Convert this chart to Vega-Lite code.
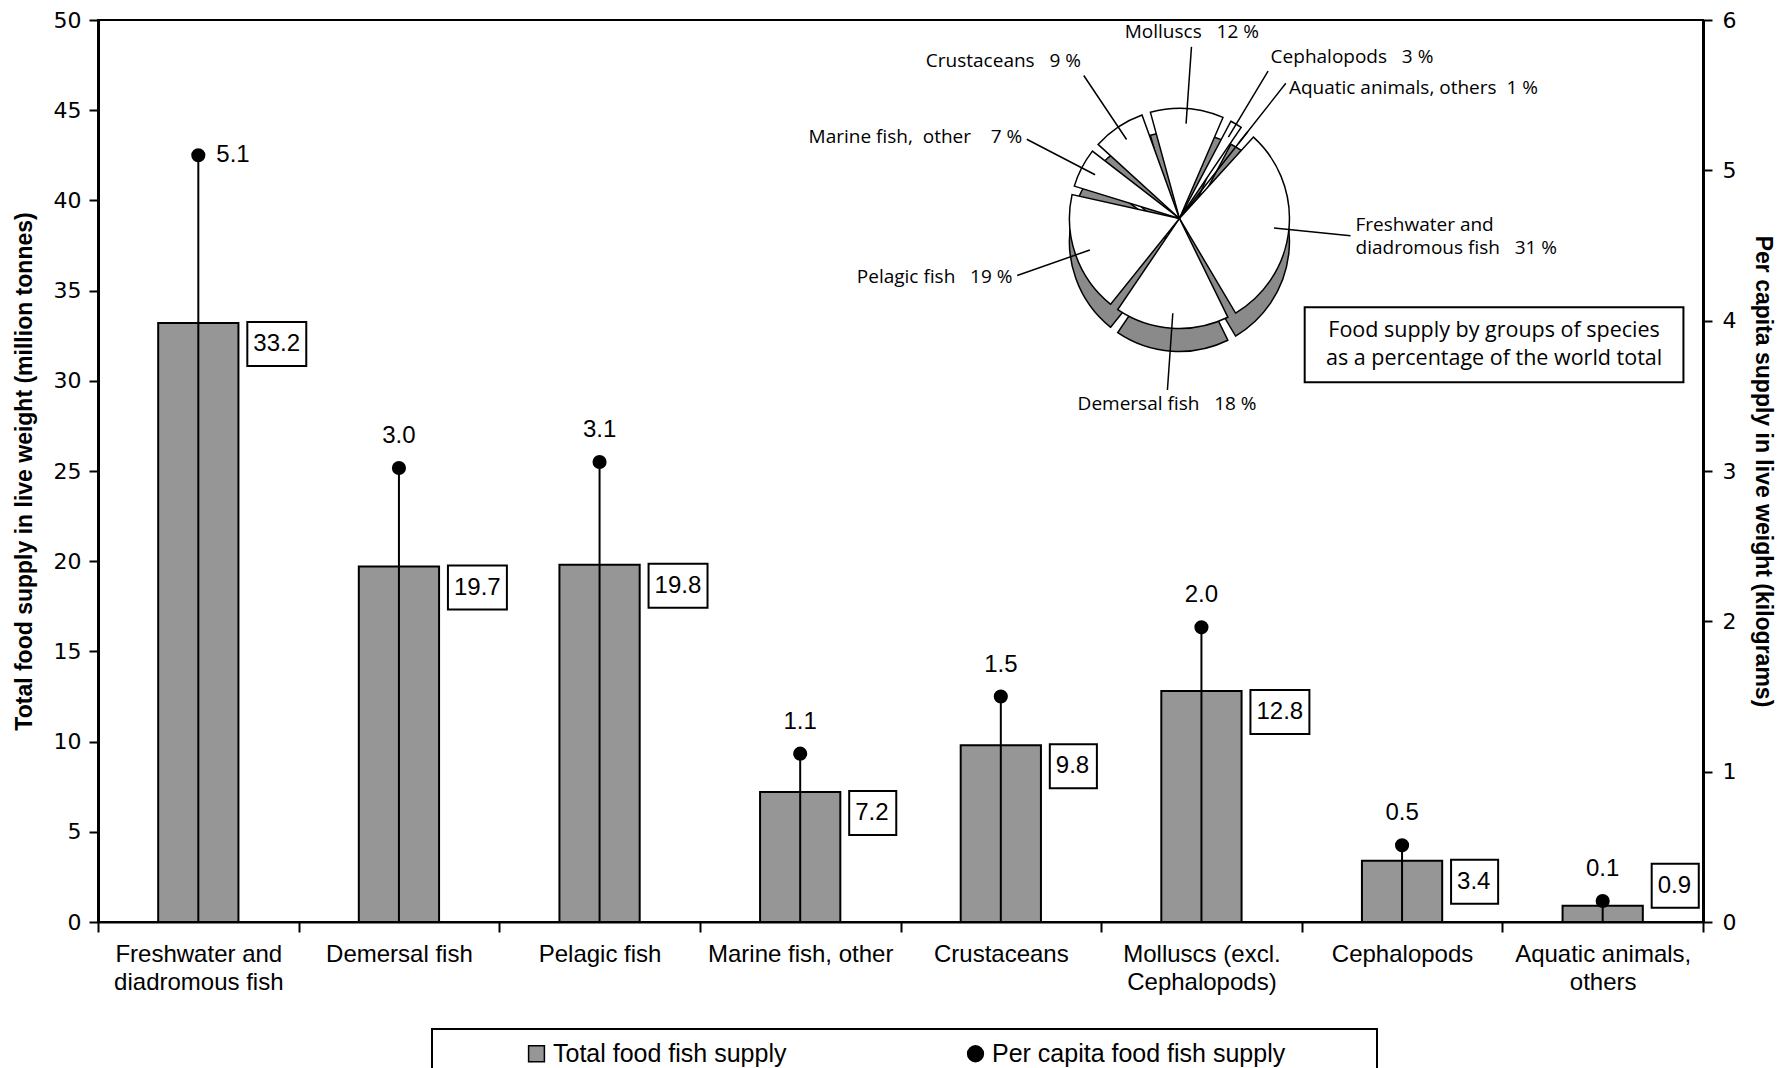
{
  "$schema": "https://vega.github.io/schema/vega-lite/v6.json",
  "width": 1605,
  "height": 902,
  "autosize": {"type": "none"},
  "padding": {"left": 98, "top": 20, "right": 74, "bottom": 146},
  "background": "white",
  "config": {
    "view": {"stroke": "black", "strokeWidth": 2},
    "font": "Liberation Sans",
    "axis": {"grid": false, "domainColor": "black", "tickColor": "black", "labelColor": "black", "titleColor": "black", "labelFont": "Liberation Sans", "titleFont": "Liberation Sans"},
    "legend": {
      "orient": "none", "legendX": 334, "legendY": 1009, "direction": "horizontal",
      "strokeColor": "black", "strokeWidth": 2, "padding": 12,
      "labelFont": "Liberation Sans", "labelFontSize": 25, "labelColor": "black", "labelLimit": 400,
      "symbolSize": 250, "symbolStrokeColor": "black", "symbolStrokeWidth": 1.5,
      "columnPadding": 96, "symbolOffset": 80, "labelOffset": 4,
      "titleOrient": "right", "titlePadding": 80
    }
  },
  "datasets": {
    "fish": [
      {"species": "Freshwater and diadromous fish", "total": 33.2, "percap": 5.1},
      {"species": "Demersal fish", "total": 19.7, "percap": 3.02},
      {"species": "Pelagic fish", "total": 19.8, "percap": 3.06},
      {"species": "Marine fish, other", "total": 7.2, "percap": 1.12},
      {"species": "Crustaceans", "total": 9.8, "percap": 1.5},
      {"species": "Molluscs (excl. Cephalopods)", "total": 12.8, "percap": 1.96},
      {"species": "Cephalopods", "total": 3.4, "percap": 0.51},
      {"species": "Aquatic animals, others", "total": 0.9, "percap": 0.14}
    ],
    "pie": [
      {"group": "Molluscs", "pct": 12, "label": "Molluscs\u00a0\u00a0 12 %"},
      {"group": "Cephalopods", "pct": 3, "label": "Cephalopods\u00a0\u00a0 3 %"},
      {"group": "Aquatic animals, others", "pct": 1, "label": "Aquatic animals, others\u00a0 1 %"},
      {"group": "Freshwater and diadromous fish", "pct": 31, "label": "Freshwater and\ndiadromous fish\u00a0\u00a0 31 %"},
      {"group": "Demersal fish", "pct": 18, "label": "Demersal fish\u00a0\u00a0 18 %"},
      {"group": "Pelagic fish", "pct": 19, "label": "Pelagic fish\u00a0\u00a0 19 %"},
      {"group": "Marine fish, other", "pct": 7, "label": "Marine fish,\u00a0 other\u00a0\u00a0\u00a0 7 %"},
      {"group": "Crustaceans", "pct": 9, "label": "Crustaceans\u00a0\u00a0 9 %"}
    ],
    "note": [
      {"note": "Food supply by groups of species\nas a percentage of the world total"}
    ]
  },
  "layer": [
    {
      "layer": [
        {
          "data": {"name": "fish"},
          "mark": {"type": "bar", "width": {"band": 0.4}, "stroke": "black", "strokeWidth": 2},
          "encoding": {
            "x": {
              "field": "species", "type": "nominal", "sort": null,
              "scale": {"domain": ["Freshwater and diadromous fish", "Demersal fish", "Pelagic fish", "Marine fish, other", "Crustaceans", "Molluscs (excl. Cephalopods)", "Cephalopods", "Aquatic animals, others"], "paddingInner": 0, "paddingOuter": 0},
              "axis": {
                "title": null, "tickBand": "extent", "tickSize": 10, "tickWidth": 2, "domainWidth": 2,
                "labelAngle": 0, "labelFontSize": 24, "labelPadding": 10, "labelLineHeight": 28, "labelLimit": 400,
                "labelExpr": "length(datum.label) > 20 ? split(replace(datum.label, regexp('^([^ ]+ [^ ]+) '), '$1|'), '|') : datum.label"
              }
            },
            "y": {
              "field": "total", "type": "quantitative",
              "scale": {"domain": [0, 50]},
              "axis": {
                "title": "Total food supply in live weight (million tonnes)",
                "values": [0, 5, 10, 15, 20, 25, 30, 35, 40, 45, 50],
                "tickSize": 9, "tickWidth": 2, "domainWidth": 3,
                "labelFont": "DejaVu Sans", "labelFontSize": 22, "labelPadding": 8,
                "titleFontSize": 23, "titleFontWeight": "bold", "titlePadding": 17
              }
            },
            "color": {
              "datum": "Total food fish supply", "type": "nominal",
              "scale": {"domain": ["Total food fish supply", "Per capita food fish supply"], "range": ["#969696", "#000000"]},
              "legend": {"title": " ", "symbolType": {"expr": "datum.value == 'Total food fish supply' ? 'square' : 'circle'"}}
            }
          }
        },
        {
          "data": {"name": "fish"},
          "mark": {"type": "point", "filled": true, "fill": "white", "stroke": "black", "strokeWidth": 2, "opacity": 1, "size": 1936, "xOffset": 49, "yOffset": {"expr": "datum.total < 2 ? -20 : 21"}},
          "encoding": {
            "x": {"field": "species", "type": "nominal", "sort": null},
            "y": {"field": "total", "type": "quantitative"},
            "shape": {"condition": {"test": "datum.total >= 10", "value": "M0,-1H2.68V1H0Z"}, "value": "M0,-1H2.14V1H0Z"}
          }
        },
        {
          "data": {"name": "fish"},
          "mark": {"type": "text", "align": "left", "baseline": "middle", "xOffset": 55, "yOffset": {"expr": "datum.total < 2 ? -20 : 21"}, "fontSize": 24, "font": "Liberation Sans", "color": "black"},
          "encoding": {
            "x": {"field": "species", "type": "nominal", "sort": null},
            "y": {"field": "total", "type": "quantitative"},
            "text": {"field": "total", "type": "quantitative", "format": ".1f"}
          }
        },
        {
          "data": {"name": "pie"},
          "mark": {"type": "arc", "radius": 110, "padAngle": 0.08, "fill": "#8a8a8a", "stroke": "black", "strokeWidth": 1.5, "xOffset": -22, "yOffset": 23},
          "encoding": {
            "x": {"datum": "Molluscs (excl. Cephalopods)", "type": "nominal"},
            "y": {"datum": 39, "type": "quantitative"},
            "theta": {"field": "pct", "type": "quantitative", "stack": true, "scale": {"range": [-0.307, 5.976]}}
          }
        },
        {
          "data": {"name": "pie"},
          "mark": {"type": "arc", "radius": 110, "padAngle": 0.08, "fill": "white", "stroke": "black", "strokeWidth": 1.5, "xOffset": -22},
          "encoding": {
            "x": {"datum": "Molluscs (excl. Cephalopods)", "type": "nominal"},
            "y": {"datum": 39, "type": "quantitative"},
            "theta": {"field": "pct", "type": "quantitative", "stack": true}
          }
        },
        {
          "data": {"name": "pie"},
          "mark": {"type": "arc", "radius": 172, "radius2": 95, "padAngle": 3.1, "fillOpacity": 0, "stroke": "black", "strokeWidth": 1.5, "xOffset": -22},
          "encoding": {
            "x": {"datum": "Molluscs (excl. Cephalopods)", "type": "nominal"},
            "y": {"datum": 39, "type": "quantitative"},
            "theta": {"field": "pct", "type": "quantitative", "stack": true}
          }
        },
        {
          "data": {"name": "pie"},
          "mark": {
            "type": "text", "radius": 177, "xOffset": -22, "font": "Open Sans", "fontSize": 19, "color": "black", "lineBreak": "\n", "lineHeight": 23,
            "text": {"expr": "datum.label"},
            "dy": {"expr": "-(length(split(datum.label, '\\n')) - 1) * 11.5"},
            "align": {"expr": "((datum.pct_start + datum.pct_end) * 1.8 - 17.6) < 12 || ((datum.pct_start + datum.pct_end) * 1.8 - 17.6) > 348 ? 'center' : ((datum.pct_start + datum.pct_end) * 1.8 - 17.6) < 168 ? 'left' : ((datum.pct_start + datum.pct_end) * 1.8 - 17.6) < 192 ? 'center' : 'right'"},
            "baseline": {"expr": "((datum.pct_start + datum.pct_end) * 1.8 - 17.6) < 35 || ((datum.pct_start + datum.pct_end) * 1.8 - 17.6) > 315 ? 'bottom' : ((datum.pct_start + datum.pct_end) * 1.8 - 17.6) < 80 ? 'top' : ((datum.pct_start + datum.pct_end) * 1.8 - 17.6) < 150 ? 'middle' : ((datum.pct_start + datum.pct_end) * 1.8 - 17.6) < 210 ? 'top' : 'middle'"}
          },
          "encoding": {
            "x": {"datum": "Molluscs (excl. Cephalopods)", "type": "nominal"},
            "y": {"datum": 39, "type": "quantitative"},
            "theta": {"field": "pct", "type": "quantitative", "stack": true}
          }
        },
        {
          "data": {"name": "note"},
          "mark": {"type": "point", "shape": "M-5.05,-1H5.05V1H-5.05Z", "size": 5625, "filled": true, "fill": "white", "stroke": "black", "strokeWidth": 2, "opacity": 1, "xOffset": 92},
          "encoding": {
            "x": {"datum": "Cephalopods", "type": "nominal"},
            "y": {"datum": 32, "type": "quantitative"}
          }
        },
        {
          "data": {"name": "note"},
          "mark": {"type": "text", "font": "Open Sans", "fontSize": 21.5, "lineHeight": 28, "lineBreak": "\n", "align": "center", "baseline": "middle", "xOffset": 92, "dy": -14, "color": "black"},
          "encoding": {
            "x": {"datum": "Cephalopods", "type": "nominal"},
            "y": {"datum": 32, "type": "quantitative"},
            "text": {"field": "note"}
          }
        }
      ]
    },
    {
      "layer": [
        {
          "data": {"name": "fish"},
          "mark": {"type": "rule", "stroke": "black", "strokeWidth": 2},
          "encoding": {
            "x": {"field": "species", "type": "nominal", "sort": null},
            "y": {
              "field": "percap", "type": "quantitative",
              "scale": {"domain": [0, 6]},
              "axis": {
                "orient": "right",
                "title": "Per capita supply in live weight (kilograms)",
                "values": [0, 1, 2, 3, 4, 5, 6], "format": "d",
                "tickSize": 9, "tickWidth": 2, "domainWidth": 3,
                "labelFont": "DejaVu Sans", "labelFontSize": 22, "labelPadding": 10,
                "titleFontSize": 23, "titleFontWeight": "bold", "titlePadding": 15
              }
            },
            "y2": {"datum": 0}
          }
        },
        {
          "data": {"name": "fish"},
          "mark": {"type": "point", "filled": true, "size": 200, "opacity": 1},
          "encoding": {
            "x": {"field": "species", "type": "nominal", "sort": null},
            "y": {"field": "percap", "type": "quantitative"},
            "color": {"datum": "Per capita food fish supply", "type": "nominal"}
          }
        },
        {
          "data": {"name": "fish"},
          "transform": [{"filter": "datum.species != 'Freshwater and diadromous fish'"}],
          "mark": {"type": "text", "baseline": "alphabetic", "dy": -25, "fontSize": 24, "font": "Liberation Sans", "color": "black"},
          "encoding": {
            "x": {"field": "species", "type": "nominal", "sort": null},
            "y": {"field": "percap", "type": "quantitative"},
            "text": {"field": "percap", "type": "quantitative", "format": ".1f"}
          }
        },
        {
          "data": {"name": "fish"},
          "transform": [{"filter": "datum.species == 'Freshwater and diadromous fish'"}],
          "mark": {"type": "text", "align": "left", "baseline": "middle", "dx": 18, "fontSize": 24, "font": "Liberation Sans", "color": "black"},
          "encoding": {
            "x": {"field": "species", "type": "nominal", "sort": null},
            "y": {"field": "percap", "type": "quantitative"},
            "text": {"field": "percap", "type": "quantitative", "format": ".1f"}
          }
        }
      ]
    }
  ],
  "resolve": {"scale": {"y": "independent"}, "axis": {"y": "independent"}}
}
